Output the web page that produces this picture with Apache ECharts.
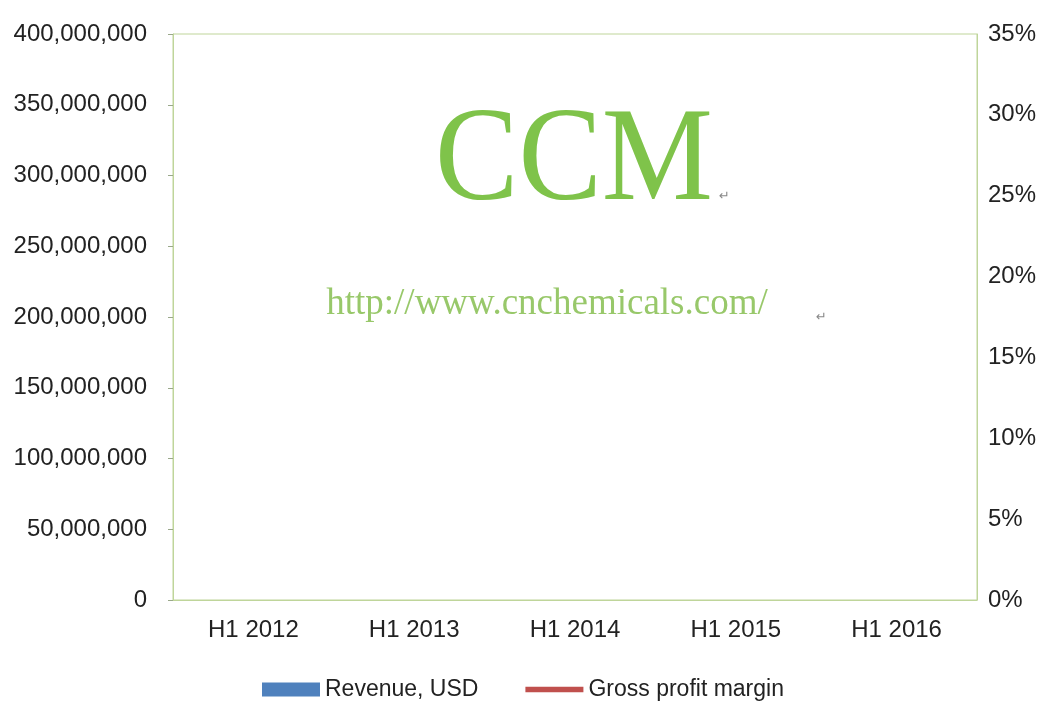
<!DOCTYPE html>
<html>
<head>
<meta charset="utf-8">
<script src="https://cdn.jsdelivr.net/npm/echarts@6/dist/echarts.min.js"></script>
<style>
html,body{margin:0;padding:0;background:#fff;}
#chart{width:1048px;height:720px;}
</style>
</head>
<body>
<div id="chart"></div>
<script>
// Categories (x axis)
var categories = ['H1 2012', 'H1 2013', 'H1 2014', 'H1 2015', 'H1 2016'];
// Series values: nothing is drawn in the reference, so no values are shown
var revenueUSD = [null, null, null, null, null];
var grossProfitMargin = [null, null, null, null, null];
// Axis tick ranges
var revenueTicks = [0, 50000000, 100000000, 150000000, 200000000, 250000000, 300000000, 350000000, 400000000];
var marginTicks = [0, 0.05, 0.10, 0.15, 0.20, 0.25, 0.30, 0.35];

var chart = echarts.init(document.getElementById('chart'), null, {renderer: 'canvas'});
var labelFont = {color: '#222222', fontSize: 24, fontFamily: 'Liberation Sans, Arial, sans-serif'};
var frameColor = '#bfd59a';

var option = {
  backgroundColor: '#ffffff',
  animation: false,
  grid: {left: 173, right: 71, top: 34, bottom: 120, show: true, borderColor: frameColor, borderWidth: 1, backgroundColor: 'transparent'},
  legend: {
    left: 257, top: 673, itemWidth: 58, itemHeight: 14, itemGap: 47,
    textStyle: {color: '#222222', fontSize: 23, fontFamily: 'Liberation Sans, Arial, sans-serif'},
    data: [
      {name: 'Revenue, USD', icon: 'rect', itemStyle: {borderWidth: 0}},
      {name: 'Gross profit margin', icon: 'path://M0,0H0.01V0.01H0Z M0,4.3H58V9.7H0Z M57.99,13.99H58V14H57.99Z', itemStyle: {borderWidth: 0}}
    ]
  },
  xAxis: {
    type: 'category', data: categories, boundaryGap: true,
    axisLine: {show: true, lineStyle: {color: frameColor}},
    axisTick: {show: false},
    axisLabel: Object.assign({margin: 18}, labelFont),
    splitLine: {show: false}
  },
  yAxis: [
    {
      type: 'value', min: revenueTicks[0], max: revenueTicks[revenueTicks.length - 1],
      interval: revenueTicks[1] - revenueTicks[0],
      axisLine: {show: true, lineStyle: {color: frameColor}},
      axisTick: {show: true, length: 5, lineStyle: {color: '#9aa88a'}},
      splitLine: {show: false},
      axisLabel: Object.assign({margin: 26, formatter: function (v) { return v.toString().replace(/\B(?=(\d{3})+(?!\d))/g, ','); }}, labelFont)
    },
    {
      type: 'value', min: marginTicks[0], max: marginTicks[marginTicks.length - 1],
      interval: marginTicks[1] - marginTicks[0], position: 'right',
      axisLine: {show: true, lineStyle: {color: frameColor}},
      axisTick: {show: false},
      splitLine: {show: false},
      axisLabel: Object.assign({margin: 11, formatter: function (v) { return Math.round(v * 100) + '%'; }}, labelFont)
    }
  ],
  graphic: [
    {type: 'text', x: 574, y: 164, scaleY: 1.07, silent: true,
     style: {text: 'CCM', fill: '#7fc34a', font: '125px "Liberation Serif", "Times New Roman", serif', textAlign: 'center', verticalAlign: 'middle'}},
    {type: 'text', x: 719, y: 197, silent: true,
     style: {text: '\u21B5', fill: '#888', font: '13px "DejaVu Sans", sans-serif', textAlign: 'left', verticalAlign: 'middle'}},
    {type: 'text', x: 547, y: 304, silent: true,
     style: {text: 'http://www.cnchemicals.com/', fill: '#98c86a', font: '37px "Liberation Serif", "Times New Roman", serif', textAlign: 'center', verticalAlign: 'middle'}},
    {type: 'text', x: 816, y: 318, silent: true,
     style: {text: '\u21B5', fill: '#888', font: '13px "DejaVu Sans", sans-serif', textAlign: 'left', verticalAlign: 'middle'}}
  ],
  series: [
    {name: 'Revenue, USD', type: 'bar', yAxisIndex: 0, data: revenueUSD, itemStyle: {color: '#4f81bd'}},
    {name: 'Gross profit margin', type: 'line', yAxisIndex: 1, data: grossProfitMargin, symbol: 'none', lineStyle: {color: '#c0504d', width: 5}, itemStyle: {color: '#c0504d'}}
  ]
};
chart.setOption(option);
</script>
</body>
</html>
